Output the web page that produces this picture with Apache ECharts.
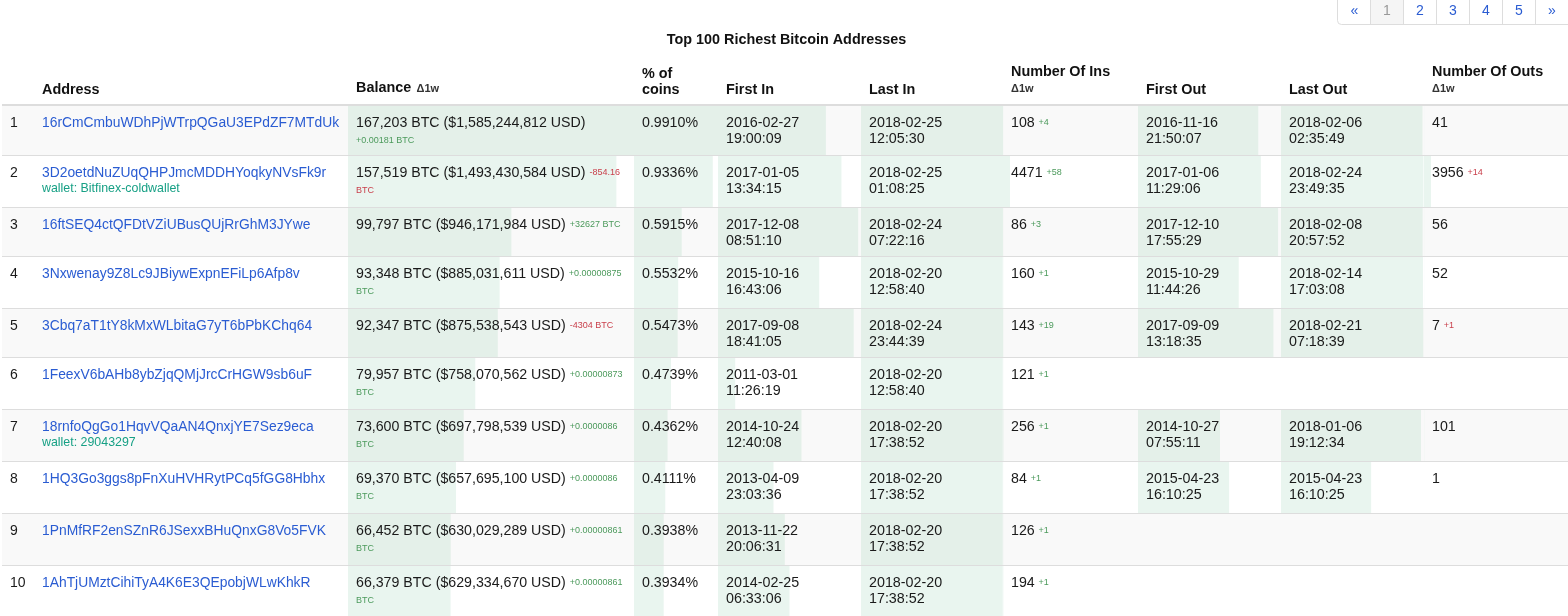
<!DOCTYPE html>
<html>
<head>
<meta charset="utf-8">
<title>Top 100 Richest Bitcoin Addresses</title>
<script src="https://cdn.jsdelivr.net/npm/echarts@6/dist/echarts.min.js"></script>
<style>
  html, body { margin: 0; padding: 0; background: #fff; }
  #chart { width: 1568px; height: 616px; }
</style>
</head>
<body>
<div id="chart"></div>
<script>
// table data
var addresses = [
  '16rCmCmbuWDhPjWTrpQGaU3EPdZF7MTdUk', '3D2oetdNuZUqQHPJmcMDDHYoqkyNVsFk9r',
  '16ftSEQ4ctQFDtVZiUBusQUjRrGhM3JYwe', '3Nxwenay9Z8Lc9JBiywExpnEFiLp6Afp8v',
  '3Cbq7aT1tY8kMxWLbitaG7yT6bPbKChq64', '1FeexV6bAHb8ybZjqQMjJrcCrHGW9sb6uF',
  '18rnfoQgGo1HqvVQaAN4QnxjYE7Sez9eca', '1HQ3Go3ggs8pFnXuHVHRytPCq5fGG8Hbhx',
  '1PnMfRF2enSZnR6JSexxBHuQnxG8Vo5FVK', '1AhTjUMztCihiTyA4K6E3QEpobjWLwKhkR'
];
var wallets = ['', 'wallet: Bitfinex-coldwallet', '', '', '', '', 'wallet: 29043297', '', '', ''];
var balances = [167203, 157519, 99797, 93348, 92347, 79957, 73600, 69370, 66452, 66379];
var balancesUsd = [1585244812, 1493430584, 946171984, 885031611, 875538543, 758070562, 697798539, 657695100, 630029289, 629334670];
// a line break marks where the delta wraps inside the cell
var balanceDeltas = ['\n+0.00181 BTC', '-854.16\nBTC', '+32627 BTC', '+0.00000875\nBTC', '-4304 BTC',
  '+0.00000873\nBTC', '+0.0000086\nBTC', '+0.0000086\nBTC', '+0.00000861\nBTC', '+0.00000861\nBTC'];
var coinPct = [0.9910, 0.9336, 0.5915, 0.5532, 0.5473, 0.4739, 0.4362, 0.4111, 0.3938, 0.3934];
var firstIn = ['2016-02-27 19:00:09', '2017-01-05 13:34:15', '2017-12-08 08:51:10', '2015-10-16 16:43:06', '2017-09-08 18:41:05',
  '2011-03-01 11:26:19', '2014-10-24 12:40:08', '2013-04-09 23:03:36', '2013-11-22 20:06:31', '2014-02-25 06:33:06'];
var lastIn = ['2018-02-25 12:05:30', '2018-02-25 01:08:25', '2018-02-24 07:22:16', '2018-02-20 12:58:40', '2018-02-24 23:44:39',
  '2018-02-20 12:58:40', '2018-02-20 17:38:52', '2018-02-20 17:38:52', '2018-02-20 17:38:52', '2018-02-20 17:38:52'];
var insCount = [108, 4471, 86, 160, 143, 121, 256, 84, 126, 194];
var insDelta = ['+4', '+58', '+3', '+1', '+19', '+1', '+1', '+1', '+1', '+1'];
var firstOut = ['2016-11-16 21:50:07', '2017-01-06 11:29:06', '2017-12-10 17:55:29', '2015-10-29 11:44:26', '2017-09-09 13:18:35',
  null, '2014-10-27 07:55:11', '2015-04-23 16:10:25', null, null];
var lastOut = ['2018-02-06 02:35:49', '2018-02-24 23:49:35', '2018-02-08 20:57:52', '2018-02-14 17:03:08', '2018-02-21 07:18:39',
  null, '2018-01-06 19:12:34', '2015-04-23 16:10:25', null, null];
var outsCount = [41, 3956, 56, 52, 7, null, 101, 1, null, null];
var outsDelta = ['', '+14', '', '', '+1', '', '', '', '', ''];
var pageLabels = ['«', '1', '2', '3', '4', '5', '»'];

// layout
var FONT = '"Liberation Sans", Arial, sans-serif';
var rowEdges = [105, 155, 207, 256, 308, 357, 409, 461, 513, 565, 616];
var ink = '#1a1a1a';
var blue = '#2a5cd2';
var teal = '#17a085';
var green = '#4c9a5c';
var red = '#c9404c';

function ts(s) { return s == null ? null : +new Date(s.replace(' ', 'T')); }

// every bar column has its own little grid and hidden x scale
var barColumns = [
  { left: 348, right: 634, values: balances, min: 10000, max: 167203 },
  { left: 634, right: 718, values: coinPct, min: 0.067, max: 0.991 },
  { left: 718, right: 861, values: firstIn.map(ts), type: 'time', min: ts('2010-03-20 00:00:00'), max: ts('2018-02-03 00:00:00') },
  { left: 861, right: 1003, values: lastIn.map(ts), type: 'time', min: ts('2010-05-01 00:00:00'), max: ts('2018-02-25 12:05:30') },
  { left: 1003, right: 1138, values: insCount, min: 0, max: 86000 },
  { left: 1138, right: 1281, values: firstOut.map(ts), type: 'time', min: ts('2010-05-30 00:00:00'), max: ts('2018-02-06 00:00:00') },
  { left: 1281, right: 1424, values: lastOut.map(ts), type: 'time', min: ts('2010-05-30 00:00:00'), max: ts('2018-03-08 00:00:00') },
  { left: 1424, right: 1568, values: outsCount, min: 0, max: 81000 }
];

var grids = [], xAxes = [], yAxes = [], series = [];
barColumns.forEach(function (col, c) {
  grids.push({ left: col.left, width: col.right - col.left, top: 105, height: 511, show: false });
  xAxes.push({ gridIndex: c, type: col.type || 'value', min: col.min, max: col.max, show: false });
  yAxes.push({ gridIndex: c, type: 'value', min: 105, max: 616, inverse: true, show: false });
  series.push({
    type: 'custom',
    xAxisIndex: c,
    yAxisIndex: c,
    silent: true,
    clip: true,
    z: 2,
    data: col.values.map(function (v, i) { return v == null ? null : [v, i]; }).filter(Boolean),
    renderItem: function (params, api) {
      var i = api.value(1);
      var top = api.coord([api.value(0), rowEdges[i]]);
      var bottom = api.coord([api.value(0), rowEdges[i + 1]]);
      var x0 = params.coordSys.x;
      return {
        type: 'rect',
        shape: { x: x0, y: top[1], width: top[0] - x0, height: bottom[1] - top[1] },
        style: { fill: i % 2 === 0 ? '#e4f0e9' : '#e9f5ef' }
      };
    }
  });
});

var elements = [];

function text(x, y, str, opts) {
  opts = opts || {};
  elements.push({
    type: 'text', x: x, y: y, z: 5, silent: true,
    style: {
      text: str,
      fontFamily: FONT,
      fontSize: opts.size || 14,
      fontWeight: opts.weight || 'normal',
      fill: opts.fill || ink,
      align: opts.align || 'left',
      verticalAlign: 'middle'
    }
  });
}

// main text with a small coloured delta behind it, wrapped when the delta has a line break
function richText(x, y, main, delta, color, mainSize) {
  var parts = delta.split('\n');
  var str = '{m|' + main + '}';
  if (parts[0]) str += '{m| }{d|' + parts[0] + '}';
  if (parts.length > 1) str += '\n{d|' + parts[1] + '}';
  elements.push({
    type: 'text', x: x, y: y - 9, z: 5, silent: true,
    style: {
      text: str,
      verticalAlign: 'top',
      rich: {
        m: { fontFamily: FONT, fontSize: mainSize, fill: ink, lineHeight: 18, verticalAlign: 'middle' },
        d: { fontFamily: FONT, fontSize: 9, fill: color, lineHeight: 18, verticalAlign: 'middle' }
      }
    }
  });
}

// stripes and rules
for (var r = 0; r < 10; r++) {
  if (r % 2 === 0) {
    elements.push({ type: 'rect', z: 0, silent: true, shape: { x: 2, y: rowEdges[r], width: 1566, height: rowEdges[r + 1] - rowEdges[r] }, style: { fill: '#f9f9f9' } });
  }
  elements.push({ type: 'rect', z: 3, silent: true, shape: { x: 2, y: rowEdges[r] - (r === 0 ? 1 : 0), width: 1566, height: r === 0 ? 2 : 1 }, style: { fill: '#dddddd' } });
}

// pagination, top right
var pageX = [1338, 1370, 1403, 1436, 1469, 1502, 1535, 1568];
elements.push({ type: 'rect', z: 1, silent: true, shape: { x: 1370, y: 0, width: 33, height: 24 }, style: { fill: '#f5f5f5' } });
elements.push({ type: 'rect', z: 3, silent: true, shape: { x: 1337.5, y: -3, width: 233, height: 27.5, r: [0, 0, 0, 4] }, style: { fill: 'none', stroke: '#dddddd', lineWidth: 1 } });
pageLabels.forEach(function (label, i) {
  if (i > 0) elements.push({ type: 'rect', z: 3, silent: true, shape: { x: pageX[i], y: 0, width: 1, height: 24 }, style: { fill: '#dddddd' } });
  text((pageX[i] + pageX[i + 1]) / 2 + 0.5, 11, label, { align: 'center', fill: label === '1' ? '#999999' : blue });
});

// title and headers
text(786.5, 40.5, 'Top 100 Richest Bitcoin Addresses', { align: 'center', weight: 'bold', size: 14.4, fill: '#111' });
var bold = { weight: 'bold', size: 14.4, fill: '#111' };
var tiny = { weight: 'bold', size: 11, fill: '#333' };
text(42, 90, 'Address', bold);
text(356, 88, 'Balance', bold);
text(416.5, 89, 'Δ1w', tiny);
text(642, 74, '% of', bold);
text(642, 90, 'coins', bold);
text(726, 90, 'First In', bold);
text(869, 90, 'Last In', bold);
text(1011, 72, 'Number Of Ins', bold);
text(1011, 89, 'Δ1w', tiny);
text(1146, 90, 'First Out', bold);
text(1289, 90, 'Last Out', bold);
text(1432, 72, 'Number Of Outs', bold);
text(1432, 89, 'Δ1w', tiny);

// table cells
function dateCell(x, y, s) {
  if (!s) return;
  var p = s.split(' ');
  text(x, y, p[0], { size: 14.3 });
  text(x, y + 16.5, p[1], { size: 14.3 });
}

addresses.forEach(function (addr, i) {
  var y = rowEdges[i] + 18;
  text(10, y, String(i + 1), { size: 14 });
  text(42, y, addr, { fill: blue, size: 13.85 });
  if (wallets[i]) text(42, y + 16, wallets[i], { fill: teal, size: 12.4 });
  var main = balances[i].toLocaleString('en-US') + ' BTC ($' + balancesUsd[i].toLocaleString('en-US') + ' USD)';
  richText(356, y, main, balanceDeltas[i], balanceDeltas[i].replace('\n', '').charAt(0) === '-' ? red : green, 14.2);
  text(642, y, coinPct[i].toFixed(4) + '%', { size: 14.2 });
  dateCell(726, y, firstIn[i]);
  dateCell(869, y, lastIn[i]);
  richText(1011, y, String(insCount[i]), insDelta[i], green, 14.2);
  dateCell(1146, y, firstOut[i]);
  dateCell(1289, y, lastOut[i]);
  if (outsCount[i] != null) richText(1432, y, String(outsCount[i]), outsDelta[i], red, 14.2);
});

var myChart = echarts.init(document.getElementById('chart'), null, { renderer: 'canvas' });
myChart.setOption({
  animation: false,
  backgroundColor: '#ffffff',
  grid: grids,
  xAxis: xAxes,
  yAxis: yAxes,
  series: series,
  graphic: { elements: elements }
});
</script>
</body>
</html>
